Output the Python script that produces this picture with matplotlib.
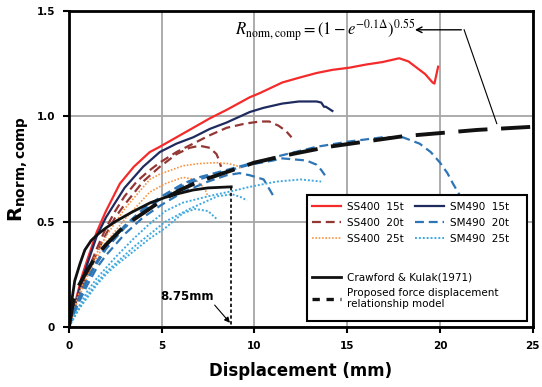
import matplotlib.pyplot as plt
from matplotlib.lines import Line2D
from matplotlib.patches import Rectangle

# SS400 15t
ss15_x = [0, 0.3, 0.7, 1.0, 1.5, 2.0, 2.75, 3.5, 4.36, 4.9, 5.8, 6.7, 7.6, 8.5, 9.75, 10.3,
          11.5, 12.5, 13.35, 14.2, 15.1, 16.0, 16.9, 17.8, 18.3, 18.75, 19.2, 19.6, 19.7, 19.9]
ss15_y = [0, 0.10, 0.24, 0.32, 0.45, 0.55, 0.68, 0.76, 0.83, 0.855, 0.90, 0.945, 0.99, 1.03, 1.09, 1.11,
          1.16, 1.185, 1.205, 1.22, 1.23, 1.245, 1.257, 1.275, 1.26, 1.23, 1.20, 1.16, 1.155, 1.235]

# SM490 15t
sm15_x = [0, 0.3, 0.7, 1.0, 1.5, 2.0, 3.0, 4.0, 4.9, 5.8, 6.7, 7.6, 8.5, 9.75, 10.5, 11.5,
          12.4, 13.35, 13.6, 13.75, 13.85, 14.2]
sm15_y = [0, 0.09, 0.22, 0.30, 0.43, 0.52, 0.66, 0.76, 0.83, 0.87, 0.90, 0.94, 0.97, 1.02, 1.04, 1.06,
          1.07, 1.07, 1.065, 1.045, 1.045, 1.025]

# SS400 20t (two specimens)
ss20a_x = [0, 0.5, 1.0, 1.5, 2.0, 2.5, 3.0, 3.66, 4.3, 4.9, 5.8, 6.7, 7.6, 8.5, 9.5, 10.3, 10.8, 11.3, 11.7, 12.0]
ss20a_y = [0, 0.14, 0.26, 0.37, 0.47, 0.55, 0.62, 0.69, 0.74, 0.78, 0.83, 0.87, 0.91, 0.945, 0.965, 0.975,
           0.975, 0.955, 0.93, 0.90]
ss20b_x = [0, 0.5, 1.0, 1.5, 2.0, 2.5, 3.0, 4.0, 4.9, 5.8, 6.5, 7.05, 7.6, 7.96, 8.1, 8.2]
ss20b_y = [0, 0.13, 0.25, 0.35, 0.44, 0.52, 0.58, 0.69, 0.76, 0.82, 0.85, 0.86, 0.85, 0.82, 0.79, 0.76]

# SS400 25t
ss25a_x = [0, 0.5, 1, 1.5, 2, 3, 4.36, 4.9, 6.15, 7.0, 7.96, 8.6, 9.05, 9.3]
ss25a_y = [0, 0.15, 0.26, 0.35, 0.43, 0.56, 0.70, 0.725, 0.765, 0.775, 0.78, 0.775, 0.765, 0.75]
ss25b_x = [0, 0.5, 1, 1.5, 2, 3, 4.36, 5.2, 6.15, 6.8, 7.3, 7.5]
ss25b_y = [0, 0.13, 0.24, 0.33, 0.40, 0.51, 0.64, 0.68, 0.71, 0.70, 0.66, 0.62]

# SM490 20t
sm20a_x = [0, 0.5, 1, 1.5, 2, 3, 4, 5, 6.15, 7, 8.5, 9.75, 11.5, 13.35, 15.1, 16.9, 18.0, 18.9,
           19.5, 20.0, 20.4, 20.7, 21.1]
sm20a_y = [0, 0.13, 0.23, 0.31, 0.38, 0.48, 0.56, 0.62, 0.68, 0.71, 0.745, 0.775, 0.815, 0.855, 0.88,
           0.90, 0.90, 0.87, 0.83, 0.78, 0.73, 0.68, 0.62]
sm20b_x = [0, 0.5, 1, 1.5, 2, 3, 4, 5, 6.15, 7, 8.5, 9.75, 11.0, 11.5, 12.8, 13.35, 13.6, 13.8]
sm20b_y = [0, 0.12, 0.22, 0.30, 0.37, 0.47, 0.55, 0.61, 0.67, 0.70, 0.74, 0.77, 0.79, 0.80, 0.79,
           0.77, 0.745, 0.72]
sm20c_x = [0, 0.5, 1, 1.5, 2, 3, 4, 5, 6.15, 7.5, 8.5, 9.2, 9.75, 10.5, 11.0]
sm20c_y = [0, 0.11, 0.20, 0.28, 0.34, 0.44, 0.52, 0.58, 0.64, 0.69, 0.72, 0.73, 0.72, 0.70, 0.625]

# SM490 25t
sm25a_x = [0, 0.5, 1, 1.5, 2, 2.5, 3.5, 4.36, 5.2, 6.15, 7.5, 8.8, 9.75, 11.2, 12.5, 13.6]
sm25a_y = [0, 0.09, 0.17, 0.23, 0.28, 0.33, 0.42, 0.49, 0.55, 0.59, 0.62, 0.645, 0.665, 0.69, 0.70, 0.69]
sm25b_x = [0, 0.5, 1, 1.5, 2, 2.5, 3.5, 4.36, 5.2, 6.5, 8.0, 8.8, 9.3, 9.6]
sm25b_y = [0, 0.08, 0.15, 0.21, 0.26, 0.30, 0.38, 0.44, 0.50, 0.56, 0.62, 0.63, 0.615, 0.60]
sm25c_x = [0, 0.5, 1, 1.5, 2, 2.5, 3.5, 4.36, 5.2, 6.15, 6.8, 7.5, 8.0]
sm25c_y = [0, 0.08, 0.14, 0.20, 0.25, 0.29, 0.36, 0.42, 0.47, 0.54, 0.56, 0.55, 0.51]

# Crawford & Kulak (1971)
ck_x = [0, 0.15, 0.32, 0.6, 0.86, 1.2, 1.56, 2.0, 2.5, 3.4, 4.4, 5.2, 6.0, 6.7, 7.5, 8.75]
ck_y = [0, 0.12, 0.22, 0.30, 0.365, 0.41, 0.44, 0.47, 0.50, 0.545, 0.59, 0.615, 0.635, 0.65, 0.66, 0.665]

# proposed model
pm_x = [0, 0.25, 0.5, 1, 1.5, 2, 3, 4, 5, 6, 7, 8, 9, 10, 12, 14, 16, 18, 20, 22, 25]
pm_y = [0, 0.13, 0.19, 0.27, 0.34, 0.39, 0.48, 0.54, 0.60, 0.65, 0.69, 0.72, 0.75, 0.78, 0.82,
        0.855, 0.88, 0.905, 0.92, 0.935, 0.95]

ult_disp = 8.75
ult_r = 0.665

c_red = '#f52a2a'
c_navy = '#1f2a5e'
c_brown = '#943634'
c_orange = '#f79646'
c_blue = '#2e75b6'
c_sky = '#3fa9e0'

fig, ax = plt.subplots(figsize=(5.42, 3.87), dpi=100)
fig.subplots_adjust(left=0.127, right=0.983, bottom=0.155, top=0.972)

dash_c = (4, 2.2)
dot_c = (1, 1)

ax.plot(ss15_x, ss15_y, color=c_red, lw=1.6)
ax.plot(sm15_x, sm15_y, color=c_navy, lw=1.6)
for xs, ys in [(ss20a_x, ss20a_y), (ss20b_x, ss20b_y)]:
    ax.plot(xs, ys, color=c_brown, lw=1.6, dashes=dash_c)
for xs, ys in [(ss25a_x, ss25a_y), (ss25b_x, ss25b_y)]:
    ax.plot(xs, ys, color=c_orange, lw=1.2, dashes=dot_c)
for xs, ys in [(sm20a_x, sm20a_y), (sm20b_x, sm20b_y), (sm20c_x, sm20c_y)]:
    ax.plot(xs, ys, color=c_blue, lw=1.6, dashes=dash_c)
for xs, ys in [(sm25a_x, sm25a_y), (sm25b_x, sm25b_y), (sm25c_x, sm25c_y)]:
    ax.plot(xs, ys, color=c_sky, lw=1.4, dashes=dot_c)

ax.plot(ck_x, ck_y, color='#111111', lw=2.0)
ax.plot(pm_x, pm_y, color='#111111', lw=2.8, dashes=(7.5, 3.5))

ax.plot([ult_disp, ult_disp], [ult_r, 0], color='black', lw=1.2, dashes=(2, 1.5))

ax.set_xlim(0, 25)
ax.set_ylim(0, 1.5)
ax.set_xticks([0, 5, 10, 15, 20, 25])
ax.set_yticks([0, 0.5, 1.0, 1.5])
ax.set_yticklabels(['0', '0.5', '1.0', '1.5'])
ax.grid(color='#a6a6a6', lw=1.3)
ax.set_axisbelow(True)
for s in ax.spines.values():
    s.set_linewidth(2)
ax.tick_params(direction='out', length=4, width=1.5, labelsize=7.5, pad=6)
for lab in ax.get_xticklabels() + ax.get_yticklabels():
    lab.set_fontweight('bold')

ax.set_xlabel('Displacement (mm)', fontsize=12, fontweight='bold', labelpad=8)
ax.set_ylabel(r'$\mathbf{R}_{\mathbf{norm,comp}}$', fontsize=14, labelpad=4,
              math_fontfamily='dejavusans')

ax.text(13.8, 1.41, r'$R_{\mathrm{norm,comp}}=\left(1-e^{-0.1\Delta}\right)^{0.55}$',
        fontsize=12, ha='center', va='center', math_fontfamily='stix')
ax.annotate('', xy=(18.5, 1.41), xytext=(21.3, 1.41),
            arrowprops=dict(arrowstyle='->', color='black', lw=1))
ax.plot([21.3, 23.06], [1.41, 0.965], color='black', lw=0.8)

ax.text(6.36, 0.147, '8.75mm', fontsize=8.5, fontweight='bold', ha='center', va='center')
ax.annotate('', xy=(8.78, 0.01), xytext=(7.76, 0.114),
            arrowprops=dict(arrowstyle='-|>', color='black', lw=0.8, mutation_scale=8))

# legend box
ax.add_patch(Rectangle((0.513, 0.019), 0.474, 0.399, transform=ax.transAxes,
                       facecolor='white', edgecolor='black', lw=1.5, zorder=4))
h1 = [Line2D([], [], color=c_red, lw=1.6),
      Line2D([], [], color=c_brown, lw=1.6, dashes=dash_c),
      Line2D([], [], color=c_orange, lw=1.2, dashes=dot_c),
      Line2D([], [], color=c_navy, lw=1.6),
      Line2D([], [], color=c_blue, lw=1.6, dashes=dash_c),
      Line2D([], [], color=c_sky, lw=1.4, dashes=dot_c)]
l1 = ['SS400  15t', 'SS400  20t', 'SS400  25t', 'SM490  15t', 'SM490  20t', 'SM490  25t']
leg1 = ax.legend(h1, l1, ncol=2, loc='upper left', bbox_to_anchor=(0.515, 0.41),
                 frameon=False, fontsize=7.5, handlelength=2.8, columnspacing=1.0,
                 labelspacing=0.6, handletextpad=0.6, borderaxespad=0)
leg1.set_zorder(5)
ax.add_artist(leg1)
h2 = [Line2D([], [], color='#111111', lw=2.0),
      Line2D([], [], color='#111111', lw=2.4, dashes=(2.2, 2.0))]
l2 = ['Crawford & Kulak(1971)', 'Proposed force displacement\nrelationship model']
leg2 = ax.legend(h2, l2, loc='upper left', bbox_to_anchor=(0.515, 0.185),
                 frameon=False, fontsize=7.5, handlelength=2.8, labelspacing=0.5,
                 handletextpad=0.6, borderaxespad=0)
leg2.set_zorder(5)

fig.savefig('out.png', dpi=100)
